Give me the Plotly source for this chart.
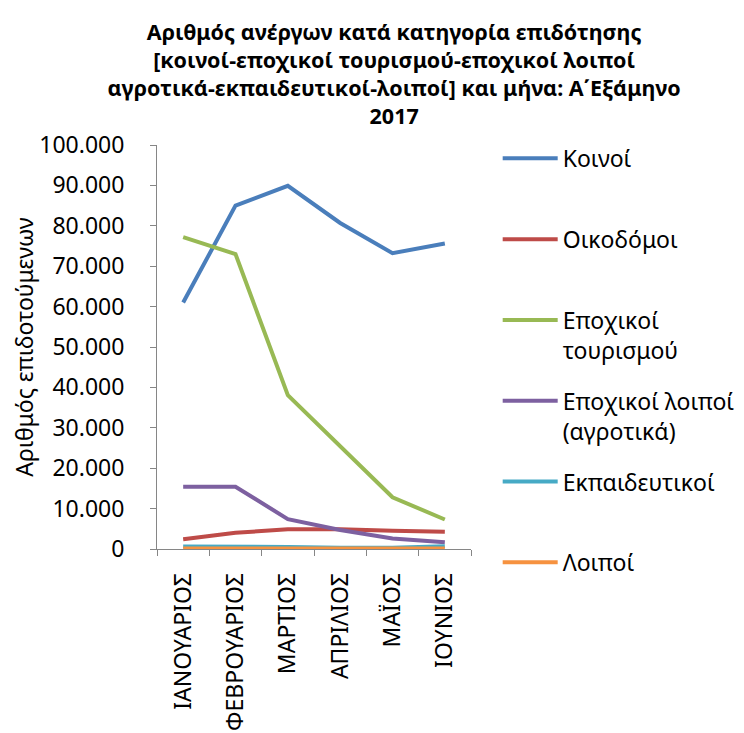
import plotly.graph_objects as go

months = ["ΙΑΝΟΥΑΡΙΟΣ", "ΦΕΒΡΟΥΑΡΙΟΣ", "ΜΑΡΤΙΟΣ", "ΑΠΡΙΛΙΟΣ", "ΜΑΪΟΣ", "ΙΟΥΝΙΟΣ"]

koinoi = [61000, 85000, 89900, 80700, 73200, 75600]
oikodomoi = [2400, 4000, 4900, 4900, 4500, 4300]
epox_tourismou = [77200, 73000, 38100, 25600, 12800, 7300]
epox_loipoi = [15400, 15400, 7400, 4700, 2600, 1700]
ekpaideutikoi = [600, 600, 500, 300, 300, 700]
loipoi = [100, 100, 100, 100, 100, 100]

series = [
    ("Κοινοί<br> ", koinoi, "#4A7EBB"),
    ("Οικοδόμοι<br> ", oikodomoi, "#BE4B48"),
    ("Εποχικοί<br>τουρισμού", epox_tourismou, "#98B954"),
    ("Εποχικοί λοιποί<br>(αγροτικά)", epox_loipoi, "#7D60A0"),
    ("Εκπαιδευτικοί<br> ", ekpaideutikoi, "#46AAC5"),
    ("Λοιποί<br> ", loipoi, "#F69240"),
]

FONT = "Noto Sans"

fig = go.Figure()
for i, (name, vals, color) in enumerate(series):
    fig.add_trace(go.Scatter(
        x=months, y=vals, name=name, mode="lines",
        line=dict(color=color, width=4),
        legendgroup=str(i),
    ))

# the page adds an 8px body margin, so the margins are 8px smaller here
fig.update_layout(
    width=744, height=733,
    paper_bgcolor="white", plot_bgcolor="white",
    margin=dict(l=149, r=267, t=137, b=192),
    font=dict(family=FONT, color="#000000", size=20),
    title=dict(
        text="<b>Αριθμός ανέργων κατά κατηγορία επιδότησης<br>"
             "[κοινοί-εποχικοί τουρισμού-εποχικοί λοιποί<br>"
             "αγροτικά-εκπαιδευτικοί-λοιποί] και μήνα: Α΄Εξάμηνο<br>2017</b>",
        x=0.519, xanchor="center", yref="container", y=0.956, yanchor="middle",
        font=dict(family=FONT, size=21.5, color="#000000"),
        automargin=False,
    ),
    showlegend=True,
    legend=dict(
        x=1.085, xanchor="left", y=1.02, yanchor="top",
        valign="top", tracegroupgap=18, itemwidth=55, maxheight=650,
        font=dict(family=FONT, size=23, color="#000000"),
        bgcolor="rgba(0,0,0,0)",
    ),
    xaxis=dict(
        type="category", range=[-0.5, 5.5], automargin=False,
        showline=True, linecolor="#868686", linewidth=1,
        ticks="outside", tickson="boundaries", ticklen=6, tickcolor="#868686",
        tickangle=-90, showgrid=False, zeroline=False, ticklabelstandoff=14,
        tickfont=dict(family=FONT, size=23, color="#000000"),
    ),
    yaxis=dict(
        range=[0, 100000], tickvals=list(range(0, 100001, 10000)), automargin=False,
        ticktext=["0"] + [f"{v // 1000}.000" for v in range(10000, 100001, 10000)],
        showline=True, linecolor="#868686", linewidth=1,
        ticks="outside", ticklen=6, tickcolor="#868686",
        showgrid=False, zeroline=False, ticklabelstandoff=21,
        tickfont=dict(family=FONT, size=23, color="#000000"),
        title=dict(text="Αριθμός επιδοτούμενων", standoff=2,
                   font=dict(family=FONT, size=23, color="#000000")),
    ),
)

fig.write_html("out.html")
